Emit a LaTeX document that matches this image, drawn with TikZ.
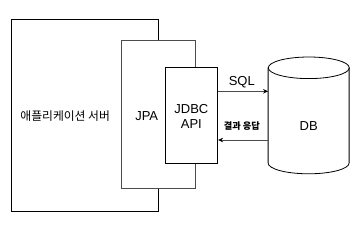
\documentclass[tikz,border=0pt]{standalone}
\usepackage{fontspec}
\setmainfont{Liberation Sans}
\newfontfamily\kor{Noto Sans CJK KR}
\usetikzlibrary{arrows.meta}
\begin{document}
\begin{tikzpicture}[x=1pt,y=1pt,
  box/.style={draw=black,fill=white,line width=0.8pt,inner sep=0pt},
  lbl/.style={font=\fontsize{13}{15}\selectfont,inner sep=0pt,align=center},
  klbl/.style={font=\kor\fontsize{11.8}{13}\selectfont,inner sep=0pt},
  conn/.style={draw=black!70,line width=0.8pt,-{Stealth[length=5pt,width=4.5pt,black]}}]
\useasboundingbox (0,0) rectangle (362,233);
\node[box,minimum width=147pt,minimum height=192pt] (app) at (84.5,118) {};
\node[box,draw=black!70,minimum width=74.5pt,minimum height=147.3pt] (jpa) at (158.25,118.65) {};
\node[box,minimum width=52.7pt,minimum height=96pt] (jdbc) at (191.35,118) {};
\node[klbl] (apptxt) at (65.2,117) {애플리케이션 서버};
\node[lbl] (jpatxt) at (146.7,117) {JPA};
\node[lbl] (jdbctxt) at (191.35,117) {JDBC\\API};
% cylinder
\node[minimum width=81pt,minimum height=117pt,inner sep=0pt] (db) at (308.8,117.5) {};
\draw[line width=0.8pt,fill=white] (db.north west) ++(0,-10.8) -- ++(0,-95.4)
  arc[start angle=180,end angle=360,x radius=40.5,y radius=10.8] -- ++(0,95.4);
\draw[line width=0.8pt] (308.8,165.2) ellipse[x radius=40.5,y radius=10.8];
\node[lbl] (dbtxt) at (308.7,107.3) {DB};
% connectors
\coordinate (sqly) at (0,141.7);
\coordinate (resy) at (0,93);
\draw[conn] (jdbc.east |- sqly) -- (db.west |- sqly);
\draw[conn] (db.west |- resy) -- (jdbc.east |- resy);
\node[lbl] (sqltxt) at (241.8,151) {SQL};
\node[klbl,font=\kor\bfseries\fontsize{9.2}{11}\selectfont] (restxt) at (241.8,107) {결과 응답};
\end{tikzpicture}
\end{document}
